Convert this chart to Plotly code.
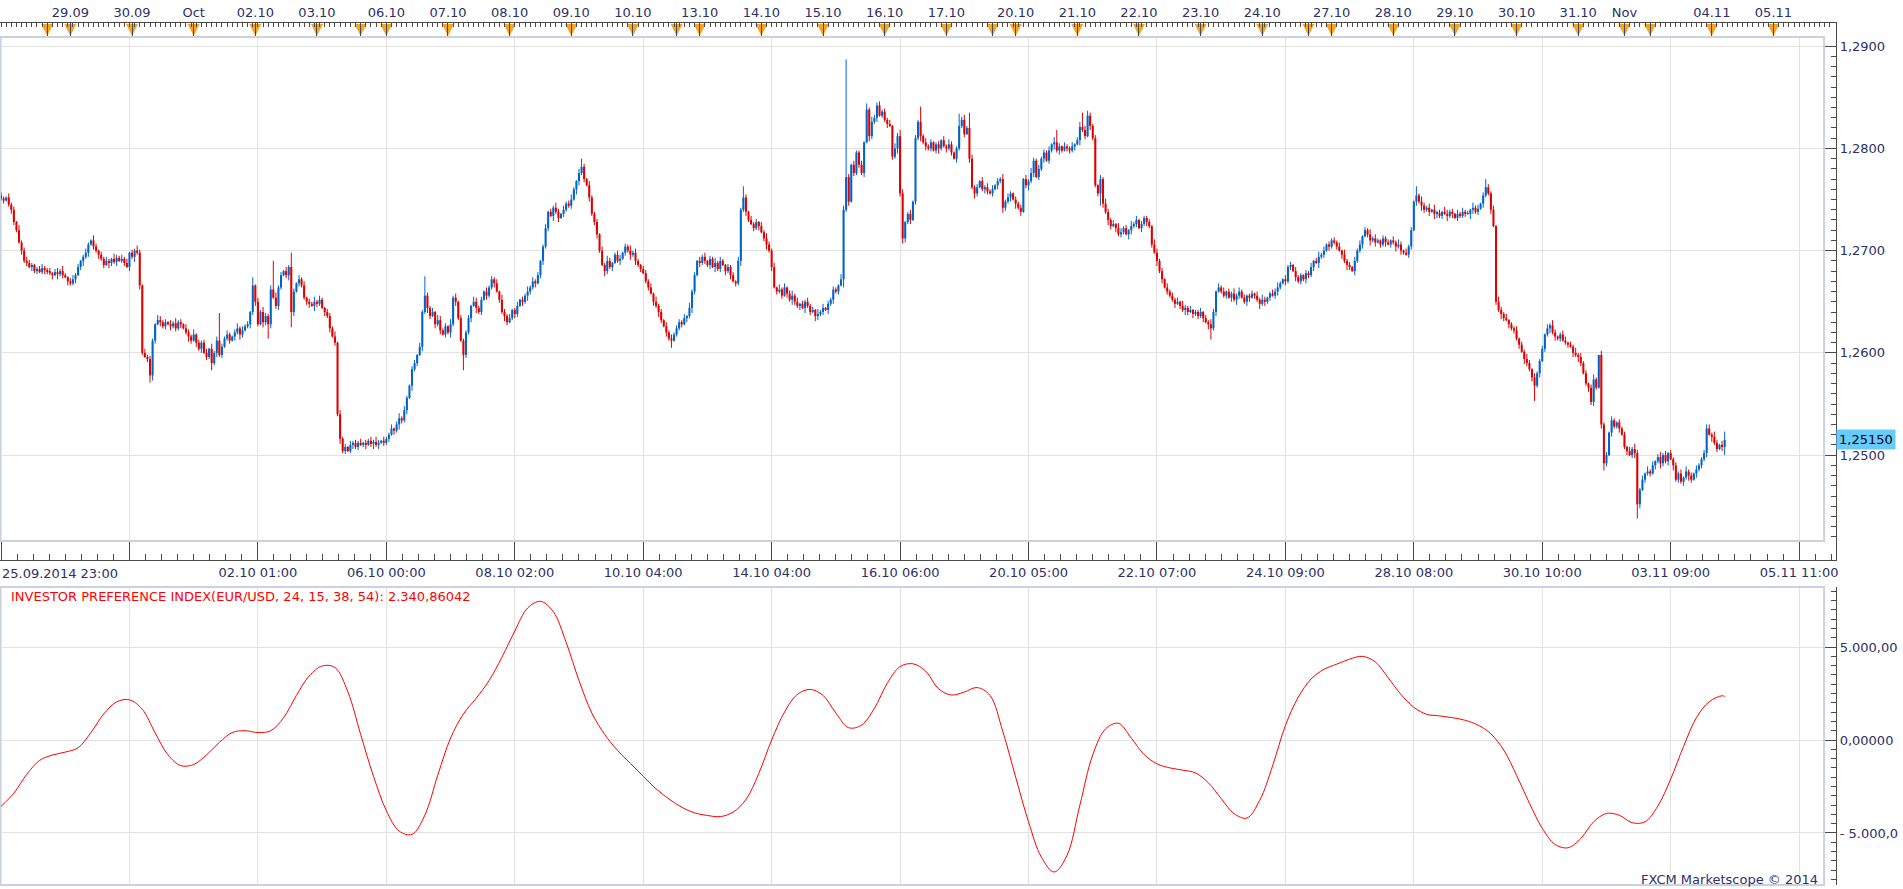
import plotly.graph_objects as go

W, H = 1903, 889

# ---------------- EUR/USD hourly closes, in pips above 1.2000 ----------------
first_open = 754
close_w1 = [751, 749, 752, 745, 740, 728, 720, 708, 700, 690,
            688, 684, 686, 680, 682, 679, 683, 681]
close_w2 = [680, 678, 676, 679, 677, 680, 676, 674, 670, 668,
            672, 676, 684, 690, 694, 698, 706, 710, 704, 700,
            696, 692, 686, 690, 688, 692, 689, 693, 690, 692,
            688, 684, 698, 694, 700, 698, 666, 600, 596, 594,
            578, 612, 628, 632, 630, 626, 630, 628, 626, 629,
            624, 630, 628, 624, 620, 616, 612, 618, 610, 604,
            610, 600, 596, 604, 590, 600, 612, 598, 606, 614,
            618, 612, 616, 620, 624, 618, 622, 626, 628, 640,
            666, 650, 628, 640, 630, 636, 628, 662, 654, 646,
            664, 676, 680, 676, 684, 640, 660, 668, 672, 666,
            654, 650, 648, 646, 650, 648, 652, 644, 640, 636,
            624, 616, 610, 540, 516, 504, 508, 504, 510, 512,
            508, 512, 510]
close_w3 = [512, 510, 514, 511, 513, 510, 512, 514, 512, 516,
            520, 526, 524, 530, 536, 534, 544, 556, 568, 584,
            590, 598, 606, 640, 656, 644, 636, 640, 628, 632,
            622, 618, 626, 620, 628, 654, 650, 634, 612, 598,
            620, 634, 646, 650, 644, 640, 652, 660, 656, 664,
            672, 668, 660, 652, 640, 636, 630, 634, 642, 638,
            646, 652, 650, 656, 660, 664, 670, 668, 676, 690,
            704, 722, 738, 734, 742, 738, 732, 736, 740, 746,
            744, 750, 760, 768, 776, 782, 770, 764, 752, 736,
            728, 716, 700, 686, 680, 690, 684, 688, 696, 690,
            692, 698, 704, 700, 696, 698, 690, 686, 682, 678,
            670, 664, 658, 650, 646, 640, 632, 626, 620, 614,
            612, 618, 624]
close_w4 = [630, 628, 634, 636, 644, 660, 676, 690, 688, 694,
            690, 686, 692, 684, 688, 682, 690, 686, 680, 684,
            676, 670, 668, 690, 740, 752, 738, 730, 726, 722,
            728, 724, 718, 712, 706, 700, 684, 664, 660, 662,
            656, 664, 658, 652, 656, 650, 646, 648, 644, 650,
            646, 640, 642, 636, 638, 640, 644, 642, 648, 652,
            662, 660, 666, 672, 740, 772, 748, 784, 776, 796,
            784, 776, 806, 838, 812, 826, 830, 842, 832, 836,
            828, 824, 822, 792, 800, 812, 756, 712, 728, 736,
            730, 748, 810, 826, 812, 806, 802, 800, 806, 798,
            804, 800, 808, 802, 800, 804, 796, 790, 800, 822,
            828, 814, 820, 790, 762, 756, 762, 768, 760, 762,
            758, 756]
close_w5 = [760, 764, 768, 770, 742, 748, 752, 756, 750, 746,
            742, 738, 770, 764, 768, 776, 788, 772, 780, 790,
            796, 788, 798, 804, 806, 798, 802, 798, 802, 800,
            798, 802, 804, 808, 821, 818, 812, 832, 822, 810,
            764, 756, 770, 746, 738, 730, 724, 726, 722, 716,
            718, 722, 716, 720, 724, 726, 730, 722, 726, 732,
            728, 724, 706, 698, 690, 680, 672, 664, 660, 656,
            652, 648, 650, 646, 642, 644, 640, 642, 638, 640,
            636, 640, 634, 630, 628, 624, 640, 660, 664, 660,
            656, 660, 654, 658, 652, 656, 660, 654, 650, 656,
            654, 658, 656, 652, 648, 652, 650, 654, 658, 656,
            660, 664, 668, 672, 670, 684, 686, 680, 674, 670,
            676, 672, 678]
close_w6 = [676, 684, 690, 688, 694, 696, 700, 706, 704, 710,
            708, 704, 700, 696, 690, 686, 684, 680, 690, 700,
            706, 714, 720, 716, 710, 712, 708, 710, 706, 712,
            708, 706, 710, 708, 704, 706, 700, 698, 696, 704,
            720, 748, 754, 748, 744, 740, 742, 738, 740, 736,
            737, 734, 738, 736, 734, 738, 736, 732, 736, 734,
            738, 736, 736, 740, 742, 738, 741, 746, 754, 762,
            756, 740, 724, 650, 642, 638, 634, 632, 628, 624,
            622, 614, 608, 601, 594, 590, 584, 576, 568, 580,
            592, 604, 618, 624, 627, 620, 616, 614, 618, 612,
            610, 608, 606, 600, 598, 596, 590, 580, 570, 566,
            552, 574, 566, 598, 530, 492, 500, 522, 534, 528,
            532, 526, 520]
close_w7 = [508, 504, 500, 506, 502, 452, 466, 476, 482, 484,
            482, 490, 494, 498, 492, 500, 494, 502, 496, 490,
            476, 482, 474, 478, 484, 480, 476, 482, 486, 490,
            496, 502, 526, 520, 518, 512, 506, 510, 508, 515]

# upper / lower shadow beyond the body, in pips (one digit per bar)
up_w1 = "3214231523 43212342"
dn_w1 = "2312432142 31423124"
up_w2 = ("2313425213 4231242153 1324215324 2413253142 3215423142 5231432513 "
         "2341524132 4213524231 3142532415 2314253142 4132524213 3251423142 324")
dn_w2 = ("3241523142 2413524132 4231532412 3142524213 2531423142 3241253142 "
         "4132524231 2314253124 3421532413 4213524132 2341532142 4132523124 231")
up_w3 = ("1324253142 2413524213 3142532415 4231524132 2315423142 3241532412 "
         "4132524231 2413253142 3521423142 2314253124 4132524213 3241523142 423")
dn_w3 = ("2413524132 3142532415 2314253142 4132524213 3241523142 2413253124 "
         "3142532413 4231524132 2315423142 3421532412 4132524231 2314253142 312")
up_w4 = ("3241523142 4132524213 2314253142 3142532415 2413524132 4231524132 "
         "3215423142 2413253142 3241532412 4132524231 2314253124 3521423142 42")
dn_w4 = ("2314253142 3241523142 4132524213 2413524132 3142532415 2315423142 "
         "4231524132 3241532412 2413253142 4132524231 3521423142 2314253124 31")
up_w5 = ("4132524213 2314253142 3241523142 2413524132 3142532415 4231524132 "
         "2315423142 3241532412 2413253142 4132524231 2314253124 3521423142 213")
dn_w5 = ("3142532415 2413524132 4132524213 3241523142 2314253142 3215423142 "
         "4231524132 2413253142 3241532412 2314253124 4132524231 3421423142 324")
up_w6 = ("2413524132 3241523142 4132524213 2314253142 3142532415 2315423142 "
         "4231524132 3241532412 2413253142 2314253124 4132524231 3521423142 132")
dn_w6 = ("3241523142 2314253142 2413524132 4132524213 3142532415 4231524132 "
         "2315423142 2413253142 3241532412 4132524231 2314253124 3421423142 241")
up_w7 = "3142532415 2413524132 3241523142 2314253142"
dn_w7 = "2413524132 3142532415 2314253142 3241523142"

high_override = {85: 639, 98: 674, 106: 690, 113: 698, 165: 675, 226: 790,
                 289: 763, 329: 887, 337: 844, 341: 845, 350: 818, 358: 841,
                 373: 834, 377: 835, 403: 790, 411: 818, 421: 835, 423: 837,
                 551: 763, 578: 770, 622: 598, 664: 530, 671: 523}
low_override = {58: 571, 82: 583, 104: 614, 113: 625, 180: 583, 261: 605,
                328: 664, 351: 707, 390: 737, 397: 734, 428: 744, 471: 613,
                597: 553, 624: 485, 637: 438, 654: 472, 671: 500}

# ---------------- Investor Preference Index (sampled every 5 bars) ----------------
ipi_vals = [-3570, -2860, -1850, -1100, -810, -650, -420, 400, 1400, 2050,
            2160, 1650, 380, -800, -1380, -1320, -800, -130, 400, 500,
            400, 500, 1200, 2400, 3450, 3980, 3900, 2600, 300, -1950,
            -3800, -4900, -5080, -4040, -1900, 100, 1400, 2250, 3200, 4450,
            5860, 7100, 7460, 6900, 5250, 3200, 1450, 300, -560, -1260,
            -1950, -2630, -3170, -3620, -3920, -4060, -4120, -3880, -3200, -1800,
            0, 1500, 2450, 2720, 2400, 1450, 660, 800, 1700, 3050,
            3950, 4100, 3700, 2750, 2420, 2580, 2820, 2400, 450, -2000,
            -4400, -6300, -7100, -6200, -3500, -800, 600, 900, 100, -780,
            -1280, -1500, -1620, -1770, -2300, -3150, -3960, -4200, -3250, -1400,
            780, 2300, 3280, 3800, 4080, 4350, 4500, 4200, 3350, 2450,
            1760, 1380, 1300, 1200, 1060, 800, 330, -540, -1900, -3400,
            -4750, -5620, -5800, -5300, -4400, -3950, -4050, -4450, -4400, -3550,
            -2100, -350, 1200, 2060, 2380, 2340.86042]
ipi_bars = list(range(0, 671, 5)) + [671]

# ---------------- axis labels (right-hand ones are cut by the window edge) ----------------
price_ticks = [1.25, 1.26, 1.27, 1.28, 1.29]
price_tick_text = ["1,2500", "1,2600", "1,2700", "1,2800", "1,2900"]
ipi_ticks = [-5000, 0, 5000]
ipi_tick_text = ["- 5.000,0", "0,00000", "5.000,00"]
day_marks = [18, 27, 51, 75, 99, 123, 140, 150, 174, 198, 222, 246, 263, 272,
             296, 320, 344, 368, 386, 395, 419, 443, 467, 491, 509, 518, 542,
             566, 590, 614, 632, 642, 666, 690]
day_labels = ["", "29.09", "30.09", "Oct", "02.10", "03.10", "", "06.10", "07.10",
              "08.10", "09.10", "10.10", "", "13.10", "14.10", "15.10", "16.10",
              "17.10", "", "20.10", "21.10", "22.10", "23.10", "24.10", "",
              "27.10", "28.10", "29.10", "30.10", "31.10", "Nov", "", "04.11", "05.11"]
time_ticks = list(range(0, 701, 50))
time_labels = ["", "", "02.10 01:00", "06.10 00:00", "08.10 02:00", "10.10 04:00",
               "14.10 04:00", "16.10 06:00", "20.10 05:00", "22.10 07:00",
               "24.10 09:00", "28.10 08:00", "30.10 10:00", "03.11 09:00",
               "05.11 11:00"]
first_time_label = "25.09.2014 23:00"
title_text = "INVESTOR PREFERENCE INDEX(EUR/USD, 24, 15, 38, 54): 2.340,86042"
last_price_text = "1,25150"
copyright_text = "FXCM Marketscope © 2014"

# ---------------- build OHLC ----------------
closes = close_w1 + close_w2 + close_w3 + close_w4 + close_w5 + close_w6 + close_w7
up_str = "".join((up_w1 + up_w2 + up_w3 + up_w4 + up_w5 + up_w6 + up_w7).split())
dn_str = "".join((dn_w1 + dn_w2 + dn_w3 + dn_w4 + dn_w5 + dn_w6 + dn_w7).split())
n = len(closes)
opens = [first_open] + closes[:-1]
highs, lows = [], []
for i in range(n):
    o, c = opens[i], closes[i]
    u = int(up_str[i]) if i < len(up_str) else 2
    d = int(dn_str[i]) if i < len(dn_str) else 2
    h = high_override.get(i, max(o, c) + u)
    l = low_override.get(i, min(o, c) - d)
    highs.append(h)
    lows.append(l)


def pr(v):
    return 1.2 + v / 10000.0


BLUE = "#0064c8"
RED = "#e00000"
NAVY = "#2e3068"
AXC = "#4a4a4a"
GRID = "#e2e2e2"
FRAME = "#c9d3df"
FONT = "DejaVu Sans, Verdana, sans-serif"

fig = go.Figure()
for is_up, col in ((True, BLUE), (False, RED)):
    idx = [i for i in range(n) if (closes[i] >= opens[i]) == is_up]
    wx, wy = [], []
    for i in idx:
        wx += [i, i, None]
        wy += [pr(lows[i]), pr(highs[i]), None]
    fig.add_trace(go.Scatter(x=wx, y=wy, mode="lines", line=dict(color=col, width=1),
                             xaxis="x", yaxis="y", hoverinfo="skip"))
    fig.add_trace(go.Bar(x=idx,
                         base=[pr(min(opens[i], closes[i])) for i in idx],
                         y=[max(abs(closes[i] - opens[i]), 0.4) / 10000.0 for i in idx],
                         width=0.8, marker=dict(color=col, line=dict(width=0)),
                         xaxis="x", yaxis="y", hoverinfo="skip"))

fig.add_trace(go.Scatter(x=ipi_bars, y=ipi_vals, mode="lines",
                         line=dict(color="#ff0000", width=1, shape="spline", smoothing=1.0),
                         xaxis="x2", yaxis="y2", hoverinfo="skip"))

fig.add_trace(go.Scatter(x=day_marks, y=[0.08] * len(day_marks), mode="markers",
                         marker=dict(symbol="arrow-down", size=12, color="#f5a425",
                                     line=dict(width=0)),
                         xaxis="x3", yaxis="y3", cliponaxis=False, hoverinfo="skip"))

# empty trace so the bottom time-axis strip is created
fig.add_trace(go.Scatter(x=[None], y=[None], xaxis="x4", yaxis="y4",
                         mode="markers", hoverinfo="skip"))


def dom(top_px, bot_px):
    return [1 - bot_px / H, 1 - top_px / H]


PLOT_R = 1826 / W
AXIS_X = 1838 / W
BAR_PX = 1800 / 700.0
X0 = -0.4
main_range = [X0, X0 + 1826 / BAR_PX]
strip_range = [X0, X0 + 1838 / BAR_PX]
tfont = dict(family=FONT, size=13, color=NAVY)

fig.update_layout(
    width=W, height=H, margin=dict(l=0, r=0, t=0, b=0, pad=0), autosize=False,
    paper_bgcolor="white", plot_bgcolor="white", showlegend=False,
    barmode="overlay", hovermode=False, font=dict(family=FONT, size=13, color=NAVY),
    xaxis=dict(domain=[0, PLOT_R], range=main_range, anchor="y", showgrid=True,
               gridcolor=GRID, gridwidth=1, tick0=0, dtick=50, showticklabels=False,
               ticks="", zeroline=False, showline=False),
    yaxis=dict(domain=dom(37, 541), range=[1.2416, 1.2909], anchor="free",
               position=AXIS_X, side="right", showline=True, linecolor=AXC,
               linewidth=1, ticks="inside", ticklen=13, tickcolor=AXC,
               tickvals=price_ticks, ticktext=price_tick_text, tickfont=tfont,
               showgrid=True, gridcolor=GRID, zeroline=False,
               minor=dict(ticks="inside", ticklen=5, tickcolor=AXC, dtick=0.001,
                          tick0=1.25, showgrid=False)),
    xaxis2=dict(domain=[0, PLOT_R], range=main_range, anchor="y2", showgrid=True,
                gridcolor=GRID, tick0=0, dtick=50, showticklabels=False, ticks="",
                zeroline=False, showline=False),
    yaxis2=dict(domain=dom(587, 885), range=[-7800, 8230], anchor="free",
                position=AXIS_X, side="right", showline=True, linecolor=AXC,
                ticks="inside", ticklen=13, tickcolor=AXC, tickvals=ipi_ticks,
                ticktext=ipi_tick_text, tickfont=tfont, showgrid=True,
                gridcolor=GRID, zeroline=False,
                minor=dict(ticks="inside", ticklen=5, tickcolor=AXC, dtick=500,
                           tick0=0, showgrid=False)),
    xaxis3=dict(domain=[0, AXIS_X], range=strip_range, anchor="y3", side="top",
                showline=True, linecolor=AXC, ticks="inside", ticklen=14,
                tickcolor=AXC, tickvals=day_marks, ticktext=day_labels,
                tickfont=tfont, showgrid=False, zeroline=False,
                minor=dict(ticks="inside", ticklen=4, tickcolor=AXC, dtick=2,
                           tick0=0, showgrid=False)),
    yaxis3=dict(domain=dom(23, 37), range=[0, 1], anchor="x3", side="right",
                showline=True, linecolor=AXC, showticklabels=False,
                ticks="", showgrid=False, zeroline=False),
    xaxis4=dict(domain=[0, AXIS_X], range=strip_range, anchor="y4", side="bottom",
                showline=True, linecolor=AXC, ticks="inside", ticklen=19,
                tickcolor=AXC, tickvals=time_ticks, ticktext=time_labels,
                tickfont=tfont, showgrid=False, zeroline=False,
                minor=dict(ticks="inside", ticklen=6, tickcolor=AXC, dtick=6.25,
                           tick0=0, showgrid=False)),
    yaxis4=dict(domain=dom(541, 560), range=[0, 1], anchor="x4", side="right",
                showline=True, linecolor=AXC, showticklabels=False,
                ticks="", showgrid=False, zeroline=False),
    shapes=[
        dict(type="rect", xref="x domain", yref="y domain", x0=0, x1=1, y0=0, y1=1,
             line=dict(color=FRAME, width=2), layer="above"),
        dict(type="rect", xref="x2 domain", yref="y2 domain", x0=0, x1=1, y0=0, y1=1,
             line=dict(color=FRAME, width=2), layer="above"),
    ],
    annotations=[
        dict(text=title_text, x=9 / W, y=1 - 596 / H, xref="paper", yref="paper",
             xanchor="left", yanchor="middle", showarrow=False,
             font=dict(family=FONT, size=13, color="#ff0000")),
        dict(text=first_time_label, x=0, y=1 - 573 / H, xref="paper", yref="paper",
             xanchor="left", yanchor="middle", showarrow=False, font=tfont),
        dict(text=copyright_text, x=1822 / W, y=1 - 879 / H, xref="paper",
             yref="paper", xanchor="right", yanchor="middle", showarrow=False,
             font=tfont),
        dict(text=last_price_text, x=AXIS_X, y=pr(closes[-1]), xref="paper", yref="y",
             xanchor="left", yanchor="middle", showarrow=False, bgcolor="#66ccff",
             borderpad=2, font=dict(family=FONT, size=13, color="#000000")),
    ],
)

clip_js = (
    "document.documentElement.style.overflow='hidden';"
    "document.body.style.margin='0';"
    "document.body.style.overflow='hidden';"
)

fig.write_html("out.html", config={"displayModeBar": False, "responsive": False},
               post_script=clip_js)
